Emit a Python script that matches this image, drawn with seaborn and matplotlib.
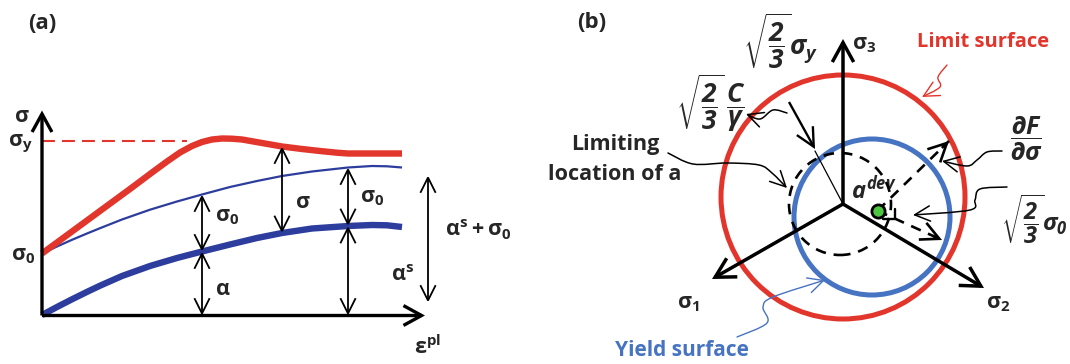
import numpy as np
import matplotlib
matplotlib.use("Agg")
import matplotlib.pyplot as plt
import seaborn as sns
from matplotlib.patches import Circle, FancyArrowPatch
from matplotlib.path import Path

# ---------------- panel (a): hardening curves (plastic strain vs stress) ----------------
strain_red = [0, 30, 60, 90, 110, 125, 138, 150, 160, 170, 180, 190, 200, 220, 240, 260,
              278, 295, 306, 315, 330, 360]
stress_total = [62, 84, 106, 128, 143, 154, 163, 169.5, 173.5, 176, 177, 176.8, 176, 172.5,
                169, 166.5, 164.5, 162.8, 162, 162, 162, 162]
strain_blue = [0, 15, 30, 45, 58, 80, 108, 135, 160, 188, 215, 240, 270, 306, 330, 345, 360]
yield_level = [62, 69, 75.7, 82, 87.3, 96, 105.8, 114, 121, 128.5, 134.5, 139.5, 144, 148,
               149.5, 149.2, 148]
back_stress = [0.5, 8.5, 16.2, 23.6, 29.8, 39.5, 49.5, 57.5, 64, 71, 77.5, 82.5, 87, 89.5,
               90.5, 90.2, 88.5]
sigma_y_level = 175
sigma_y_dash_end = 145
arrow_strains = [160, 240, 306]
sat_arrow_strain = 386
sat_arrow_span = [13, 140]

# ---------------- panel (b): deviatoric plane ----------------
limit_center = (0, 7)
limit_radius = 122
yield_center = (29, -13)
yield_radius = 78
limiting_center = (-3, 0)
limiting_radius = 51
alpha_point = (34.5, -6.7)
axis_tips = {"s1": (-131, -75), "s2": (141, -84), "s3": (0, 165)}
normal_tip = (106, 63)
radius_tip = (99, -36)

RED = "#E2352B"
BLUE_A = "#2D3D9E"
BLUE_B = "#4673C2"
GREEN = "#4CC63F"

sns.set_style("white")
plt.rcParams["font.family"] = ["Open Sans", "DejaVu Sans"]
plt.rcParams["font.weight"] = "bold"
plt.rcParams["mathtext.fontset"] = "custom"
plt.rcParams["mathtext.rm"] = "Open Sans:bold"
plt.rcParams["mathtext.it"] = "Open Sans:italic:bold"
plt.rcParams["mathtext.bf"] = "Open Sans:italic:bold"
plt.rcParams["mathtext.sf"] = "Open Sans:italic"

fig = plt.figure(figsize=(10.7, 3.64), dpi=100)

# panel (a) axes: one data unit equals one pixel, origin at the corner of the drawn axes
ax_a = fig.add_axes([42 / 1070, (364 - 315.5) / 364, 383 / 1070, 205 / 364])
ax_a.set_xlim(0, 383)
ax_a.set_ylim(0, 205)
ax_a.axis("off")

# panel (b) axes: full figure, origin at the centre of the principal-stress axes
ax_b = fig.add_axes([0, 0, 1, 1])
ax_b.set_xlim(-843, 227)
ax_b.set_ylim(-160, 204)
ax_b.axis("off")
ax_b.set_zorder(ax_a.get_zorder() - 1)


def arrow(ax, p0, p1, style="->", hl=1.1, hw=0.55, ms=10, lw=1.3, color="black", z=5):
    a = FancyArrowPatch(p0, p1, arrowstyle=f"{style},head_length={hl},head_width={hw}",
                        mutation_scale=ms, lw=lw, color=color, shrinkA=0, shrinkB=0,
                        zorder=z, clip_on=False, joinstyle="miter", capstyle="butt")
    ax.add_patch(a)


def smooth_path(pts):
    pts = np.asarray(pts, float)
    verts = [pts[0]]
    codes = [Path.MOVETO]
    n = len(pts)
    for i in range(n - 1):
        p0 = pts[i - 1] if i > 0 else pts[i]
        p1, p2 = pts[i], pts[i + 1]
        p3 = pts[i + 2] if i + 2 < n else pts[i + 1]
        verts += [p1 + (p2 - p0) / 6, p2 - (p3 - p1) / 6, p2]
        codes += [Path.CURVE4] * 3
    return Path(verts, codes)


def wavy_arrow(ax, pts, color="black", lw=1.1):
    a = FancyArrowPatch(path=smooth_path(pts), arrowstyle="->,head_length=1.1,head_width=0.55",
                        mutation_scale=10, lw=lw, color=color, transform=ax.transData,
                        zorder=6, clip_on=False)
    ax.add_patch(a)


# ---- panel (a) curves ----
line_kw = dict(estimator=None, sort=False, solid_capstyle="butt", solid_joinstyle="round",
               clip_on=False)
sns.lineplot(x=strain_blue, y=back_stress, ax=ax_a, color=BLUE_A, lw=4.6, **line_kw)
sns.lineplot(x=strain_blue, y=yield_level, ax=ax_a, color=BLUE_A, lw=1.6, **line_kw)
sns.lineplot(x=strain_red, y=stress_total, ax=ax_a, color=RED, lw=4.6, **line_kw)
sns.lineplot(x=[0, sigma_y_dash_end], y=[sigma_y_level, sigma_y_level], ax=ax_a, color=RED,
             lw=1.5, linestyle=(0, (6.2, 3.4)), clip_on=False)

# coordinate axes
arrow(ax_a, (0, 0), (0, 205), hl=1.0, hw=0.55, ms=13, lw=2.4, z=7)
arrow(ax_a, (0, 0), (383, 0), hl=1.0, hw=0.55, ms=13, lw=2.4, z=7)

# measuring arrows
x1, x2, x3 = arrow_strains
thin1 = np.interp(x1, strain_blue, yield_level)
thick1 = np.interp(x1, strain_blue, back_stress)
arrow(ax_a, (x1, thin1), (x1, thick1), style="<->")
arrow(ax_a, (x1, thick1), (x1, 0), style="<->")
red2 = np.interp(x2, strain_red, stress_total)
thick2 = np.interp(x2, strain_blue, back_stress)
arrow(ax_a, (x2, red2), (x2, thick2), style="<->")
thin3 = np.interp(x3, strain_blue, yield_level)
thick3 = np.interp(x3, strain_blue, back_stress)
arrow(ax_a, (x3, thin3), (x3, thick3), style="<->")
arrow(ax_a, (x3, thick3), (x3, 0), style="<->")
arrow(ax_a, (sat_arrow_strain, sat_arrow_span[1]), (sat_arrow_strain, sat_arrow_span[0]),
      style="<->")

fs_a = 15.5
ax_a.text(0, 292, "(a)", fontsize=16, ha="center", va="center")
ax_a.text(-20, 199, r"$\mathrm{\sigma}$", fontsize=fs_a, ha="center", va="center")
ax_a.text(-22, 172, r"$\mathrm{\sigma_y}$", fontsize=fs_a, ha="center", va="center")
ax_a.text(-19, 60, r"$\mathrm{\sigma_0}$", fontsize=fs_a, ha="center", va="center")
ax_a.text(185, 99, r"$\mathrm{\sigma_0}$", fontsize=fs_a, ha="center", va="center")
ax_a.text(261, 113, r"$\mathrm{\sigma}$", fontsize=fs_a, ha="center", va="center")
ax_a.text(330, 118, r"$\mathrm{\sigma_0}$", fontsize=fs_a, ha="center", va="center")
ax_a.text(181, 26, r"$\mathrm{\alpha}$", fontsize=fs_a, ha="center", va="center")
ax_a.text(361, 40, r"$\mathrm{\alpha^s}$", fontsize=fs_a, ha="center", va="center")
ax_a.text(436, 86, r"$\mathrm{\alpha^s + \sigma_0}$", fontsize=fs_a, ha="center", va="center")
ax_a.text(386, -32, r"$\mathrm{\varepsilon^{pl}}$", fontsize=fs_a, ha="center", va="center")

# ---- panel (b) ----
ax_b.add_patch(Circle(limit_center, limit_radius, fill=False, ec=RED, lw=3.6, zorder=3))
ax_b.add_patch(Circle(yield_center, yield_radius, fill=False, ec=BLUE_B, lw=3.6, zorder=3))
ax_b.add_patch(Circle(limiting_center, limiting_radius, fill=False, ec="black", lw=1.9,
                      linestyle=(0, (4, 3)), zorder=4))

for key in ("s1", "s2", "s3"):
    arrow(ax_b, (0, 0), axis_tips[key], hl=1.0, hw=0.55, ms=14, lw=2.5, z=5)

# radius of the limiting circle and its pointer
ax_b.plot([0, -28], [0, 53], color="black", lw=0.9, zorder=5)
arrow(ax_b, (-54, 102), (-28, 55), hl=1.1, hw=0.55, ms=12, lw=1.7, z=6)

# dashed normal and radius arrows from the back-stress point
for tip in (normal_tip, radius_tip):
    ax_b.plot([alpha_point[0], tip[0]], [alpha_point[1], tip[1]], color="black", lw=1.9,
              linestyle=(0, (4, 3)), zorder=5)
    d = np.array(tip) - np.array(alpha_point)
    d = d / np.hypot(*d)
    arrow(ax_b, tuple(np.array(tip) - 10 * d), tip, hl=1.1, hw=0.55, ms=12, lw=1.9, z=6)
ax_b.plot([40, 52, 52], [-15, -15, -5], color="black", lw=1.7, zorder=5)
ax_b.plot(*alpha_point, "o", ms=9.5, mfc=GREEN, mec="black", mew=2.0, zorder=8)

# wavy pointers
wavy_arrow(ax_b, [(-56, 91), (-70, 94), (-83, 85), (-97, 90)])
wavy_arrow(ax_b, [(-175, 51), (-150, 40), (-116, 41), (-84, 39), (-71, 31), (-56, 16)])
wavy_arrow(ax_b, [(104, 139), (95, 127), (97, 117), (79, 107)], color=RED, lw=1.0)
wavy_arrow(ax_b, [(159, 53), (144, 52), (134, 44), (124, 38), (99, 43)])
wavy_arrow(ax_b, [(164, 17), (137, 15), (132, 4), (127, -6), (70, -11)])
wavy_arrow(ax_b, [(-106, -133), (-76, -119), (-80, -103), (-70, -93), (-18, -76)],
           color=BLUE_B, lw=1.0)

fs_b = 15.5
ax_b.text(-251, 182, "(b)", fontsize=16, ha="center", va="center")
ax_b.text(140, 162, "Limit surface", fontsize=14.5, color=RED, ha="center", va="center")
ax_b.text(-161, -146, "Yield surface", fontsize=15, color=BLUE_B, ha="center", va="center")
ax_b.text(-228, 59, "Limiting", fontsize=15.5, ha="center", va="center")
ax_b.text(-228, 29, "location of a", fontsize=15.5, ha="center", va="center")
ax_b.text(21, 159, r"$\mathrm{\sigma_3}$", fontsize=fs_b, ha="center", va="center")
ax_b.text(-155, -99, r"$\mathrm{\sigma_1}$", fontsize=fs_b, ha="center", va="center")
ax_b.text(155, -99, r"$\mathrm{\sigma_2}$", fontsize=fs_b, ha="center", va="center")
ax_b.text(-62, 162, r"$\sqrt{\dfrac{\mathbf{2}}{\mathbf{3}}}\sigma_{\mathsf{y}}$", fontsize=19,
          ha="center", va="center")
ax_b.text(-132, 101, r"$\sqrt{\dfrac{\mathbf{2}}{\mathbf{3}}}\,\dfrac{C}{\gamma}$", fontsize=19,
          ha="center", va="center")
ax_b.text(183, 66, r"$\dfrac{\partial F}{\partial \sigma}$", fontsize=18, ha="center",
          va="center")
ax_b.text(158, -16, r"$\sqrt{\dfrac{\mathbf{2}}{\mathbf{3}}}\sigma_{\mathbf{0}}$", fontsize=17,
          ha="left", va="center")
ax_b.text(8, 14, r"$a^{\mathsf{dev}}$", fontsize=17, ha="left", va="center")

fig.savefig("out.png", dpi=100)
